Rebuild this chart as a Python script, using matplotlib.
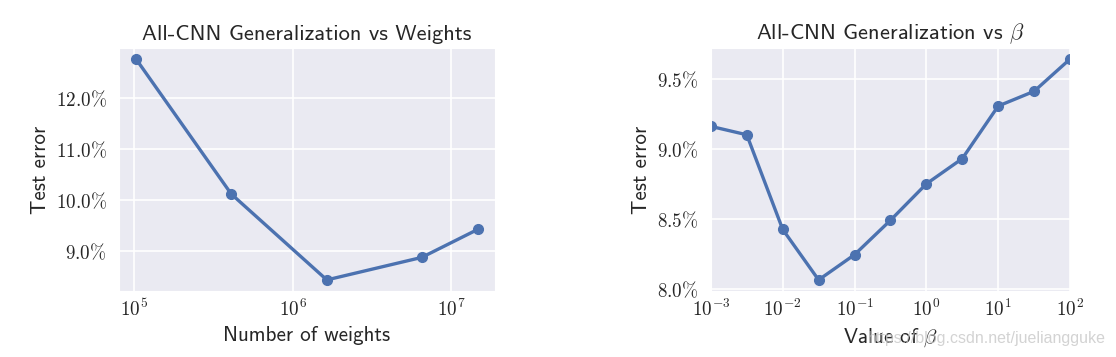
import matplotlib
matplotlib.use("Agg")
import matplotlib.pyplot as plt
import seaborn as sns
from matplotlib.ticker import FuncFormatter, LogLocator, NullLocator

# data
n_weights = [1.03e5, 4.1e5, 1.64e6, 6.5e6, 1.47e7]
err_weights = [12.76, 10.12, 8.44, 8.88, 9.43]

betas = [1e-3, 3.16e-3, 1e-2, 3.16e-2, 1e-1, 3.16e-1, 1e0, 3.16e0, 1e1, 3.16e1, 1e2]
err_beta = [9.16, 9.10, 8.425, 8.065, 8.245, 8.49, 8.75, 8.93, 9.305, 9.41, 9.64]

sns.set_style("darkgrid")
plt.rcParams["font.family"] = ["cmss10", "DejaVu Sans"]
plt.rcParams["mathtext.fontset"] = "cm"
plt.rcParams["axes.unicode_minus"] = False

blue = "#4c72b0"
fig = plt.figure(figsize=(11.16, 3.57), dpi=100)
ax1 = fig.add_axes([0.1066, 0.185, 0.337, 0.6805])
ax2 = fig.add_axes([0.637, 0.185, 0.3218, 0.6805])

pct = FuncFormatter(lambda v, p: r"$%.1f\%%$" % v)
expo = FuncFormatter(lambda v, p: r"$10^{%d}$" % round(__import__("math").log10(v)))

ax1.plot(n_weights, err_weights, "-o", color=blue, lw=2.4, ms=7)
ax1.set_xscale("log")
ax1.set_yticks([9, 10, 11, 12])
ax1.set_title("All-CNN Generalization vs Weights", fontsize=16.2)
ax1.set_xlabel("Number of weights", fontsize=15.2)
ax1.set_ylabel("Test error", fontsize=15.2)

ax2.plot(betas, err_beta, "-o", color=blue, lw=2.4, ms=7)
ax2.set_xscale("log")
ax2.set_xlim(1e-3, 1e2)
ax2.set_yticks([8.0, 8.5, 9.0, 9.5])
ax2.set_title(r"All-CNN Generalization vs $\beta$", fontsize=16.2)
ax2.set_xlabel(r"Value of $\beta$", fontsize=15.2)
ax2.set_ylabel("Test error", fontsize=15.2)

for ax in (ax1, ax2):
    ax.xaxis.set_major_locator(LogLocator(base=10, numticks=20))
    ax.xaxis.set_minor_locator(NullLocator())
    ax.xaxis.set_major_formatter(expo)
    ax.yaxis.set_major_formatter(pct)
    ax.tick_params(axis="y", labelsize=13.8, length=0, pad=9)
    ax.tick_params(axis="x", labelsize=13.8, length=0, pad=6)
    ax.grid(True, color="white", lw=1.2)

fig.text(0.991, 0.04, "https://blog.csdn.net/jueliangguke", ha="right",
         fontsize=11.5, color="#c8c8c8", alpha=0.8, family="Liberation Sans")

fig.savefig("out.png", dpi=100)
